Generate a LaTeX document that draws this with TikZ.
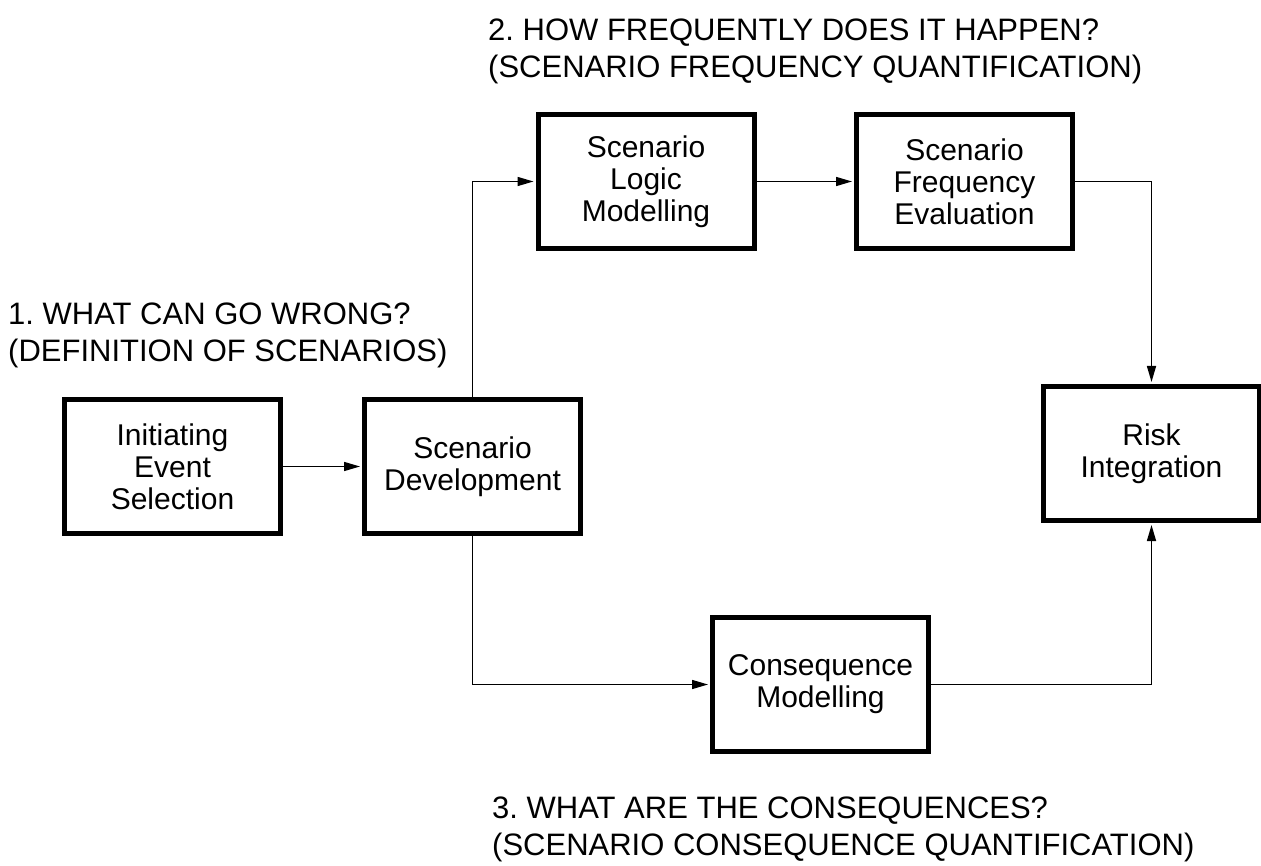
\documentclass[tikz,border=0pt]{standalone}
\usepackage{fontspec}
\setmainfont{Liberation Sans}
\frenchspacing
\usetikzlibrary{arrows.meta}

\begin{document}
\begin{tikzpicture}[x=1pt,y=-1pt,font=\fontsize{30}{32}\selectfont,
  stage/.style={draw,line width=5pt,minimum width=216pt,minimum height=134pt,
    align=center,inner sep=0pt},
  flow/.style={line width=1.5pt,-{Triangle[length=16pt,width=9pt]},
    shorten >=2pt},
  question/.style={anchor=north west,align=left,inner sep=0pt,
    font=\fontsize{31}{37}\selectfont}]
  \useasboundingbox (0,0) rectangle (1261,866);

  % the six stages
  \node[stage] (ies) at (172.5,466.5) {Initiating\\Event\\Selection};
  \node[stage] (sd)  at (472.5,466.5) {Scenario\\Development};
  \node[stage] (slm) at (646,181.5)   {Scenario\\Logic\\Modelling};
  \node[stage] (sfe) at (964.5,181.5) {Scenario\\Frequency\\Evaluation};
  \node[stage] (ri)  at (1151.5,453.5) {Risk\\Integration};
  \node[stage] (cm)  at (820.5,684.5) {Consequence\\Modelling};

  % the three questions
  \node[question] (q1) at (8,303)
    {1. WHAT CAN GO WRONG?\\(DEFINITION OF SCENARIOS)};
  \node[question] (q2) at (488,19)
    {2. HOW FREQUENTLY DOES IT HAPPEN?\\(SCENARIO FREQUENCY QUANTIFICATION)};
  \node[question] (q3) at (492,797)
    {3. WHAT ARE THE CONSEQUENCES?\\(SCENARIO CONSEQUENCE QUANTIFICATION)};

  % connectors
  \draw[flow] (ies) -- (sd);
  \draw[flow] (sd.north) |- (slm.west);
  \draw[flow] (slm) -- (sfe);
  \draw[flow] (sfe.east) -| (ri.north);
  \draw[flow] (sd.south) |- (cm.west);
  \draw[flow] (cm.east) -| (ri.south);
\end{tikzpicture}
\end{document}
